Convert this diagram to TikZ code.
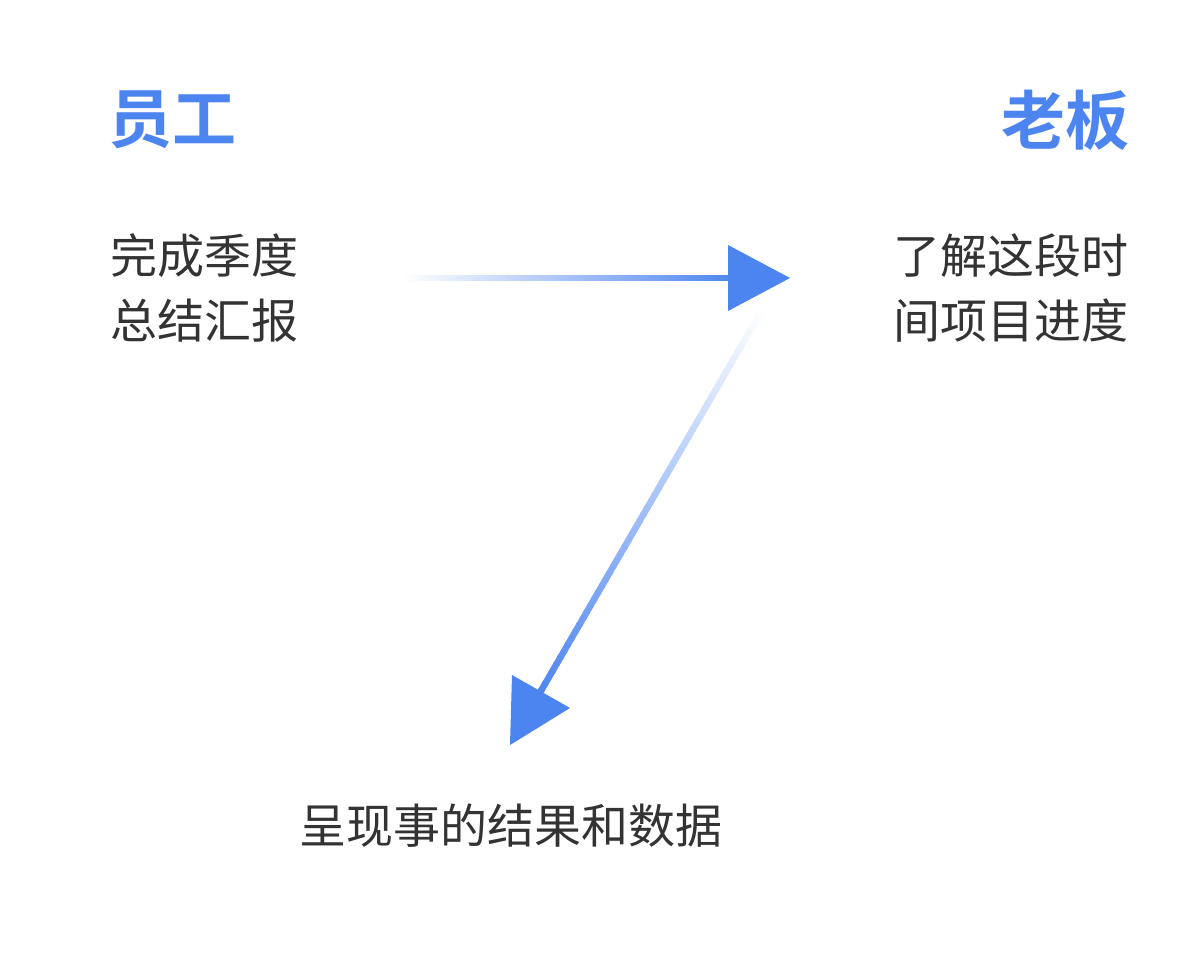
\documentclass[tikz,border=0pt]{standalone}
\usepackage{fontspec}
\setmainfont{Noto Sans CJK SC}
\newfontfamily\cjkb{Noto Sans CJK SC Bold}
\usetikzlibrary{calc}
\definecolor{myblue}{HTML}{4C84F0}
\definecolor{mytext}{HTML}{333333}
\tikzset{title/.style={text=myblue,font=\cjkb\fontsize{64}{66}\selectfont,inner sep=0pt},
 body/.style={text=mytext,font=\fontsize{47}{65}\selectfont,inner sep=0pt,align=left}}
\begin{document}
\begin{tikzpicture}[x=1pt,y=-1pt]
\useasboundingbox (0,0) rectangle (1192,968);
\node[title,anchor=west] (yg) at (108,120) {员工};
\node[title,anchor=east] (lb) at (1130,120) {老板};
\node[body,anchor=west] (t1) at (110,288) {完成季度\\总结汇报};
\node[body,anchor=east,align=right] (t2) at (1129,288) {了解这段时\\间项目进度};
\node[body] (t3) at (511,826) {呈现事的结果和数据};
\coordinate (a1) at (400,278);
\coordinate (b1) at (735,278);
\coordinate (a2) at (765,305);
\coordinate (b2) at (538,696);
\foreach \i in {0,...,59}{
 \pgfmathsetmacro{\p}{\i/60*100}
 \draw[line width=6.5pt,myblue!\p!white] ($(a1)!\i/60!(b1)$) -- ($(a1)!\i/60+0.02!(b1)$);
 \draw[line width=6.5pt,myblue!\p!white] ($(a2)!\i/60!(b2)$) -- ($(a2)!\i/60+0.02!(b2)$);
}
\fill[myblue] (728,245) -- (790,278) -- (728,311) -- cycle;
\fill[myblue] (510,745) -- (570,708) -- (512,675) -- cycle;
\end{tikzpicture}
\end{document}
